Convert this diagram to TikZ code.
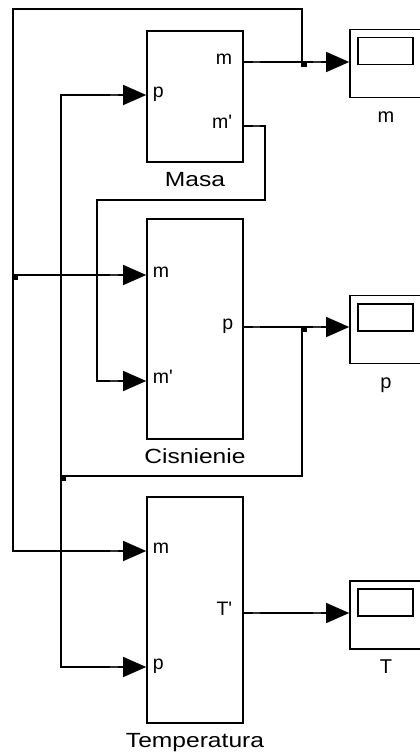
\documentclass[tikz,border=0pt]{standalone}
\usepackage{fontspec}
\setmainfont{Liberation Sans}
\newfontfamily\widesans{Liberation Sans}[FakeStretch=1.2]
\usetikzlibrary{positioning,arrows.meta,calc}

\begin{document}
\begin{tikzpicture}[
  x=1pt, y=-1pt, line width=1.3pt,
  block/.style={draw, line width=1.6pt, rectangle, minimum width=96pt, inner sep=0pt},
  scopebox/.style={draw, line width=1.6pt, rectangle, minimum width=72pt, minimum height=68pt, inner sep=0pt},
  sig/.style={-{Triangle[length=23pt,width=20pt]}},
  stub/.style={line width=2.4pt, black!80},
  portlbl/.style={inner sep=0pt, font=\fontsize{19.5}{22}\selectfont},
  blklbl/.style={inner sep=0pt, anchor=base, font=\widesans\fontsize{20.5}{24}\selectfont},
  sclbl/.style={inner sep=0pt, anchor=base, font=\fontsize{20}{24}\selectfont},
  dot/.style={fill=black}
]
\clip (0,0) rectangle (420,752);

\node[block, minimum height=131pt] (masa) at (195,96.5) {};
\node[block, minimum height=220pt] (cis) at (195,329) {};
\node[block, minimum height=226pt] (temp) at (195,610) {};
\node[scopebox] (scm) at (386,63.5) {};
\node[scopebox] (scp) at (386,329.5) {};
\node[scopebox] (scT) at (386,615) {};
\foreach \s in {scm,scp,scT}
  \draw[line width=1.6pt] (\s.north west) ++(9,9) rectangle ++(55,27);

\node[blklbl] (masalbl) at ($(masa.south)+(0,24)$) {Masa};
\node[blklbl] (cislbl) at ($(cis.south)+(0,24)$) {Cisnienie};
\node[blklbl] (templbl) at ($(temp.south)+(0,24)$) {Temperatura};
\node[sclbl] (scmlbl) at ($(scm.south)+(0,24)$) {m};
\node[sclbl] (scplbl) at ($(scp.south)+(0,24)$) {p};
\node[sclbl] (scTlbl) at ($(scT.south)+(0,24)$) {T};

\coordinate (masa-m) at (masa.east |- 0,62);
\coordinate (masa-md) at (masa.east |- 0,126);
\coordinate (masa-p) at (masa.west |- 0,95);
\coordinate (cis-m) at (cis.west |- 0,275);
\coordinate (cis-md) at (cis.west |- 0,381);
\coordinate (cis-p) at (cis.east |- 0,327);
\coordinate (temp-m) at (temp.west |- 0,551);
\coordinate (temp-p) at (temp.west |- 0,667);
\coordinate (temp-T) at (temp.east |- 0,613);
\coordinate (scm-in) at (scm.west |- masa-m);
\coordinate (scp-in) at (scp.west |- cis-p);
\coordinate (scT-in) at (scT.west |- temp-T);

\node[portlbl, anchor=mid east, xshift=-11pt] at (masa-m) {m};
\node[portlbl, anchor=mid east, xshift=-11pt] at (masa-md) {m\textquotesingle};
\node[portlbl, anchor=mid west, xshift=6pt] at (masa-p) {p};
\node[portlbl, anchor=mid west, xshift=6pt] at (cis-m) {m};
\node[portlbl, anchor=mid west, xshift=6pt] at (cis-md) {m\textquotesingle};
\node[portlbl, anchor=mid east, xshift=-10pt] at (cis-p) {p};
\node[portlbl, anchor=mid west, xshift=6pt] at (temp-m) {m};
\node[portlbl, anchor=mid west, xshift=6pt] at (temp-p) {p};
\node[portlbl, anchor=mid east, xshift=-11pt] at (temp-T) {T\textquotesingle};

\coordinate (jm) at (302,62);
\coordinate (top) at (13,9);
\coordinate (jl) at (13,275);
\coordinate (loopr) at (265,200);
\coordinate (loopl) at (97,200);
\coordinate (jp) at (302,327);
\coordinate (jb) at (61,476);

\draw[sig] (masa-m) -- (scm-in);
\draw[sig] (jm) |- (top) |- (temp-m);
\draw[sig] (jl) -- (cis-m);
\draw[sig] (masa-md) -| (loopr) -- (loopl) |- (cis-md);
\draw[sig] (cis-p) -- (scp-in);
\draw (jp) |- (jb);
\draw[sig] (jb) |- (masa-p);
\draw[sig] (jb) |- (temp-p);
\draw[sig] (temp-T) -- (scT-in);

\foreach \p in {masa-m,masa-md,cis-p,temp-T}
  \draw[stub] ($(\p)+(9,0)$) -- ++(7,0);
\foreach \p in {masa-p,cis-m,cis-md,temp-m,temp-p,scm-in,scp-in,scT-in}
  \draw[stub] ($(\p)+(-36,0)$) -- ++(8,0);
\foreach \j in {jm,jl,jp,jb}
  \fill[dot] (\j) ++(-1.5,-1) rectangle ++(6.5,6);
\end{tikzpicture}
\end{document}
